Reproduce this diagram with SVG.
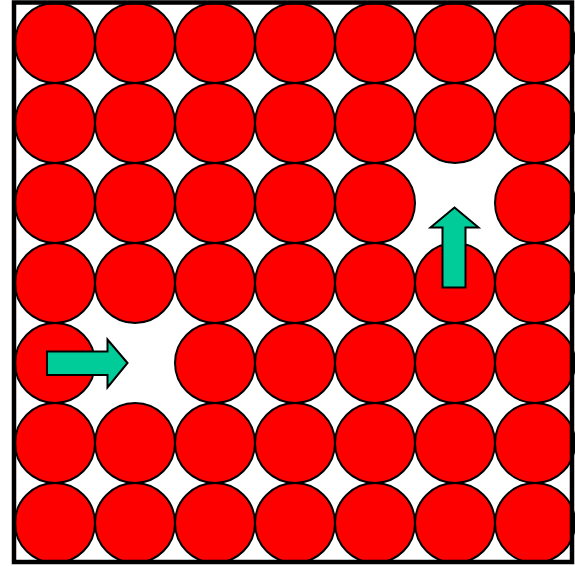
<svg xmlns="http://www.w3.org/2000/svg" width="575" height="566" viewBox="0 0 575 566">
<style>
.c{fill:#ff0000;stroke:#000;stroke-width:2}
.a{fill:#00cc99;stroke:#000;stroke-width:2;stroke-linejoin:miter}
</style>
<rect x="0" y="0" width="575" height="566" fill="#fff"/>
<g id="circles">
<circle class="c" cx="55" cy="43" r="40"/><circle class="c" cx="135" cy="43" r="40"/><circle class="c" cx="215" cy="43" r="40"/><circle class="c" cx="295" cy="43" r="40"/><circle class="c" cx="375" cy="43" r="40"/><circle class="c" cx="455" cy="43" r="40"/><circle class="c" cx="535" cy="43" r="40"/>
<circle class="c" cx="55" cy="123" r="40"/><circle class="c" cx="135" cy="123" r="40"/><circle class="c" cx="215" cy="123" r="40"/><circle class="c" cx="295" cy="123" r="40"/><circle class="c" cx="375" cy="123" r="40"/><circle class="c" cx="455" cy="123" r="40"/><circle class="c" cx="535" cy="123" r="40"/>
<circle class="c" cx="55" cy="203" r="40"/><circle class="c" cx="135" cy="203" r="40"/><circle class="c" cx="215" cy="203" r="40"/><circle class="c" cx="295" cy="203" r="40"/><circle class="c" cx="375" cy="203" r="40"/><circle class="c" cx="535" cy="203" r="40"/>
<circle class="c" cx="55" cy="283" r="40"/><circle class="c" cx="135" cy="283" r="40"/><circle class="c" cx="215" cy="283" r="40"/><circle class="c" cx="295" cy="283" r="40"/><circle class="c" cx="375" cy="283" r="40"/><circle class="c" cx="455" cy="283" r="40"/><circle class="c" cx="535" cy="283" r="40"/>
<circle class="c" cx="55" cy="363" r="40"/><circle class="c" cx="215" cy="363" r="40"/><circle class="c" cx="295" cy="363" r="40"/><circle class="c" cx="375" cy="363" r="40"/><circle class="c" cx="455" cy="363" r="40"/><circle class="c" cx="535" cy="363" r="40"/>
<circle class="c" cx="55" cy="443" r="40"/><circle class="c" cx="135" cy="443" r="40"/><circle class="c" cx="215" cy="443" r="40"/><circle class="c" cx="295" cy="443" r="40"/><circle class="c" cx="375" cy="443" r="40"/><circle class="c" cx="455" cy="443" r="40"/><circle class="c" cx="535" cy="443" r="40"/>
<circle class="c" cx="55" cy="523" r="40"/><circle class="c" cx="135" cy="523" r="40"/><circle class="c" cx="215" cy="523" r="40"/><circle class="c" cx="295" cy="523" r="40"/><circle class="c" cx="375" cy="523" r="40"/><circle class="c" cx="455" cy="523" r="40"/><circle class="c" cx="535" cy="523" r="40"/>
</g>
<g id="arrows">
<polygon class="a" points="454.5,207.5 478.5,227.5 465.5,227.5 465.5,287.5 442.5,287.5 442.5,227.5 430.5,227.5"/>
<polygon class="a" points="127.5,363 107.5,339.5 107.5,351.5 47,351.5 47,375 107.5,375 107.5,387.5"/>
</g>
<rect x="14" y="2.5" width="558" height="559.5" fill="none" stroke="#000" stroke-width="4.5"/>
</svg>
